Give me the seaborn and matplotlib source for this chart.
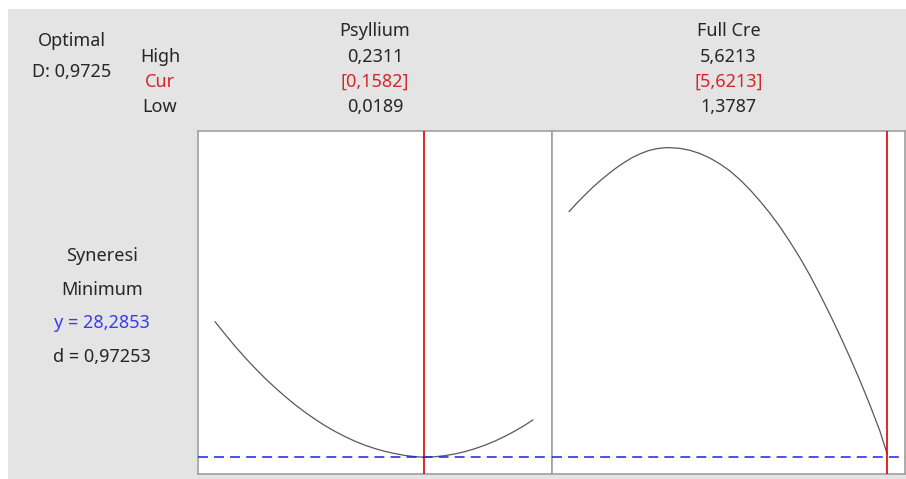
import matplotlib
matplotlib.use("Agg")
import matplotlib.pyplot as plt
import seaborn as sns
import pandas as pd

# ---- data ----
factors = ["Psyllium", "Full Cre"]
high_vals = [0.2311, 5.6213]
low_vals = [0.0189, 1.3787]
cur_vals = [0.1582, 5.6213]
high_labels = ["0,2311", "5,6213"]
cur_labels = ["[0,1582]", "[5,6213]"]
low_labels = ["0,0189", "1,3787"]

optimal_D = "0,9725"
response_name = "Syneresi"
goal = "Minimum"
y_opt = 28.2853
y_label = "y = 28,2853"
d_label = "d = 0,97253"

psyllium_x = [0.0189, 0.0256, 0.0322, 0.0389, 0.0456, 0.0522, 0.0589, 0.0656,
              0.0722, 0.0789, 0.0856, 0.0922, 0.0989, 0.1056, 0.1122, 0.1189,
              0.1256, 0.1322, 0.1389, 0.1456, 0.1522, 0.1582, 0.1656, 0.1722,
              0.1789, 0.1856, 0.1922, 0.1989, 0.2056, 0.2122, 0.2189, 0.2256,
              0.2311]
psyllium_y = [41.85, 40.60, 39.40, 38.27, 37.20, 36.20, 35.26, 34.38,
              33.56, 32.80, 32.10, 31.46, 30.88, 30.36, 29.90, 29.50,
              29.16, 28.88, 28.66, 28.47, 28.36, 28.2853, 28.34, 28.45,
              28.62, 28.85, 29.14, 29.49, 29.90, 30.37, 30.90, 31.49,
              32.03]

fullcre_x = [1.3787, 1.4814, 1.5882, 1.6949, 1.8016, 1.9084, 2.0151, 2.1218,
             2.2286, 2.3353, 2.4421, 2.5488, 2.6555, 2.7222, 2.8557, 2.9891,
             3.1225, 3.2559, 3.3893, 3.5228, 3.6562, 3.7896, 3.9230, 4.0564,
             4.1899, 4.3233, 4.4567, 4.5901, 4.7235, 4.8570, 4.9904, 5.1238,
             5.2572, 5.3906, 5.5241, 5.6213]
fullcre_y = [52.85, 53.69, 54.50, 55.28, 55.99, 56.65, 57.26, 57.80,
             58.28, 58.66, 58.96, 59.15, 59.24, 59.25, 59.18, 58.99,
             58.67, 58.22, 57.64, 56.94, 56.07, 55.07, 53.94, 52.72,
             51.37, 49.87, 48.27, 46.52, 44.62, 42.62, 40.52, 38.32,
             36.02, 33.57, 30.97, 28.67]

curves = [pd.DataFrame({"x": psyllium_x, "y": psyllium_y}),
          pd.DataFrame({"x": fullcre_x, "y": fullcre_y})]

# ---- style ----
sns.set_style("white")
plt.rcParams["font.family"] = ["Noto Sans", "DejaVu Sans"]

W, H = 906, 479
fig = plt.figure(figsize=(W / 100, H / 100), dpi=100)
fig.patch.set_facecolor("white")

# gray background panel
bg = fig.add_axes([8 / W, 0, 1 - 8 / W, 1 - 9 / H])
bg.set_facecolor("#e4e4e4")
bg.set_xticks([]); bg.set_yticks([])
for s in bg.spines.values():
    s.set_visible(False)
bg.set_zorder(-10)

GRAY_TXT = "#262626"
RED = "#d7252b"
BLUE = "#3a3af0"
FS = 13


def ftext(px, py, s, color=GRAY_TXT, ha="center"):
    fig.text(px / W, 1 - py / H, s, ha=ha, va="center", fontsize=FS, color=color)


ftext(72, 41, "Optimal")
ftext(72, 72, "D: " + optimal_D)
ftext(160, 57, "High")
ftext(160, 82, "Cur", color=RED)
ftext(160, 107, "Low")

ftext(102, 256, response_name)
ftext(102, 290, goal)
ftext(102, 323, y_label, color=BLUE)
ftext(102, 357, d_label)

panel_px = [(198, 552), (552, 905)]
top_px, bot_px = 131, 474
ylim = (y_opt - (bot_px - 457.3) * 0.1, y_opt + (457.3 - top_px) * 0.1)

for i, (l, r) in enumerate(panel_px):
    ax = fig.add_axes([l / W, 1 - bot_px / H, (r - l) / W, (bot_px - top_px) / H])
    ax.set_facecolor("white")
    lo, hi = low_vals[i], high_vals[i]
    span = hi - lo
    per_px = span / 318.0
    ax.set_xlim(lo - 17 * per_px, hi + (r - l - 17 - 318) * per_px)
    ax.set_ylim(*ylim)
    sns.lineplot(data=curves[i], x="x", y="y", ax=ax, color="#585858",
                 linewidth=0.9, sort=False)
    ax.axvline(cur_vals[i], color="#e00000", linewidth=1.2, zorder=3)
    ax.axhline(y_opt, color="#1f1fe6", linewidth=1.1, dashes=(6.5, 4), zorder=4)
    ax.set_xticks([]); ax.set_yticks([])
    ax.set_xlabel(""); ax.set_ylabel("")
    for s in ax.spines.values():
        s.set_color("#a0a0a0")
        s.set_linewidth(1.2)

    cx = (l + r) / 2
    ftext(cx, 31, factors[i])
    ftext(cx, 57, high_labels[i])
    ftext(cx, 82, cur_labels[i], color=RED)
    ftext(cx, 107, low_labels[i])

fig.savefig("out.png", dpi=100, facecolor=fig.get_facecolor())
